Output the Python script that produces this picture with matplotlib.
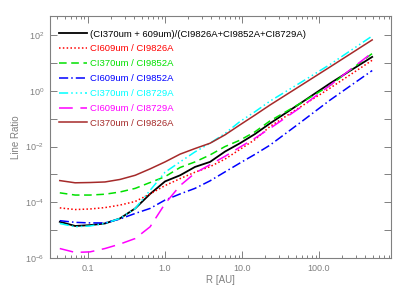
import numpy as np
import matplotlib
matplotlib.use('Agg')
import matplotlib.pyplot as plt
from matplotlib.ticker import LogLocator, FixedLocator, FixedFormatter, NullFormatter

# 1. Data (log10 of line ratio)
radius_au = [0.043, 0.068, 0.106, 0.166, 0.26, 0.41, 0.64, 1.0, 1.57, 2.45,
             3.84, 6.0, 9.4, 14.7, 23.0, 57.0, 139.0, 490.0]

log_sum_ratio = [-4.70, -4.85, -4.82, -4.76, -4.58, -4.22, -3.70, -3.25, -3.03, -2.73,
                 -2.55, -2.18, -1.88, -1.55, -1.17, -0.45, 0.27, 1.22]
log_609_9826 = [-4.20, -4.26, -4.24, -4.19, -4.10, -3.97, -3.70, -3.40, -3.15, -2.92,
                -2.72, -2.45, -2.10, -1.75, -1.28, -0.58, 0.10, 1.10]
log_370_9852 = [-3.66, -3.74, -3.74, -3.71, -3.63, -3.50, -3.29, -3.08, -2.75, -2.55,
                -2.30, -2.00, -1.77, -1.47, -1.08, -0.45, 0.20, 1.34]
log_609_9852 = [-4.66, -4.72, -4.74, -4.74, -4.60, -4.40, -4.22, -3.92, -3.70, -3.50,
                -3.23, -2.91, -2.59, -2.28, -1.95, -1.14, -0.33, 0.73]
log_370_8729 = [-4.76, -4.88, -4.85, -4.76, -4.58, -4.22, -3.57, -2.92, -2.55, -2.19,
                -1.88, -1.53, -1.10, -0.75, -0.37, 0.29, 0.95, 1.97]
log_609_8729 = [-5.66, -5.80, -5.78, -5.66, -5.50, -5.30, -4.88, -4.05, -3.40, -2.95,
                -2.65, -2.35, -2.02, -1.70, -1.35, -0.60, 0.20, 1.37]
log_370_9826 = [-3.22, -3.30, -3.29, -3.27, -3.18, -3.03, -2.80, -2.55, -2.27, -2.07,
                -1.88, -1.58, -1.22, -0.87, -0.51, 0.18, 0.86, 1.83]

labels = ['(CI370um + 609um)/(CI9826A+CI9852A+CI8729A)',
          'CI609um / CI9826A',
          'CI370um / CI9852A',
          'CI609um / CI9852A',
          'CI370um / CI8729A',
          'CI609um / CI8729A',
          'CI370um / CI9826A']

x_ticks = [0.1, 1.0, 10.0, 100.0]
x_tick_labels = ['0.1', '1.0', '10.0', '100.0']
y_tick_labels = [r'$10^{-6}$', r'$10^{-4}$', r'$10^{-2}$', r'$10^{0}$', r'$10^{2}$']

# 2. Styles (IDL-like)
series = [log_sum_ratio, log_609_9826, log_370_9852, log_609_9852,
          log_370_8729, log_609_8729, log_370_9826]
colors = ['black', '#ff0000', '#00e000', '#0000ff', '#00ffff', '#ff00ff', '#a52a2a']
styles = ['-', (0, (1, 1.5)), (0, (5, 3)), (0, (6, 2, 1, 2)),
          (0, (6, 2, 1, 2, 1, 2, 1, 2)), (0, (9, 5)), '-']
widths = [1.3, 1.1, 1.1, 1.1, 1.1, 1.1, 1.1]

plt.rcParams['font.family'] = ['Liberation Sans', 'DejaVu Sans']
plt.rcParams['mathtext.fontset'] = 'custom'
plt.rcParams['mathtext.rm'] = 'Liberation Sans'
plt.rcParams['mathtext.it'] = 'Liberation Sans'
gray = '#808080'

fig = plt.figure(figsize=(4.07, 2.91), dpi=100)
ax = fig.add_axes([0.1229, 0.1134, 0.8378, 0.8326])

for vals, c, ls, lw, lab in zip(series, colors, styles, widths, labels):
    ax.plot(radius_au, 10.0 ** np.array(vals), color=c, linestyle=ls, lw=lw, label=lab)

ax.set_xscale('log')
ax.set_yscale('log')
ax.set_xlim(0.0321, 860)
ax.set_ylim(1e-6, 5e2)

# 3. Ticks
ax.xaxis.set_major_locator(FixedLocator(x_ticks))
ax.xaxis.set_major_formatter(FixedFormatter(x_tick_labels))
ax.xaxis.set_minor_locator(LogLocator(base=10, subs=np.arange(2, 10)))
ax.xaxis.set_minor_formatter(NullFormatter())
ax.yaxis.set_major_locator(FixedLocator([10.0 ** k for k in range(-6, 3)]))
ax.yaxis.set_major_formatter(FixedFormatter([y_tick_labels[i // 2] if i % 2 == 0 else ''
                                             for i in range(9)]))
ax.yaxis.set_minor_locator(FixedLocator([]))
ax.tick_params(which='both', direction='in', top=True, right=True,
               color=gray, labelcolor=gray, labelsize=6.5, width=0.7)
ax.tick_params(which='major', length=5, pad=4)
ax.tick_params(which='minor', length=2.5)
for sp in ax.spines.values():
    sp.set_color(gray)
    sp.set_linewidth(0.8)

ax.set_xlabel('R [AU]', color=gray, fontsize=7, labelpad=2)
ax.set_ylabel('Line Ratio', color=gray, fontsize=7, labelpad=3)

# 4. Legend with coloured text
leg = ax.legend(loc='upper left', frameon=False, fontsize=6.8, handlelength=3.0,
                handletextpad=0.35, labelspacing=0.62, borderaxespad=0.5,
                bbox_to_anchor=(0.0, 0.978))
for txt, c in zip(leg.get_texts(), colors):
    txt.set_color(c)

fig.savefig('out.png', dpi=100)
